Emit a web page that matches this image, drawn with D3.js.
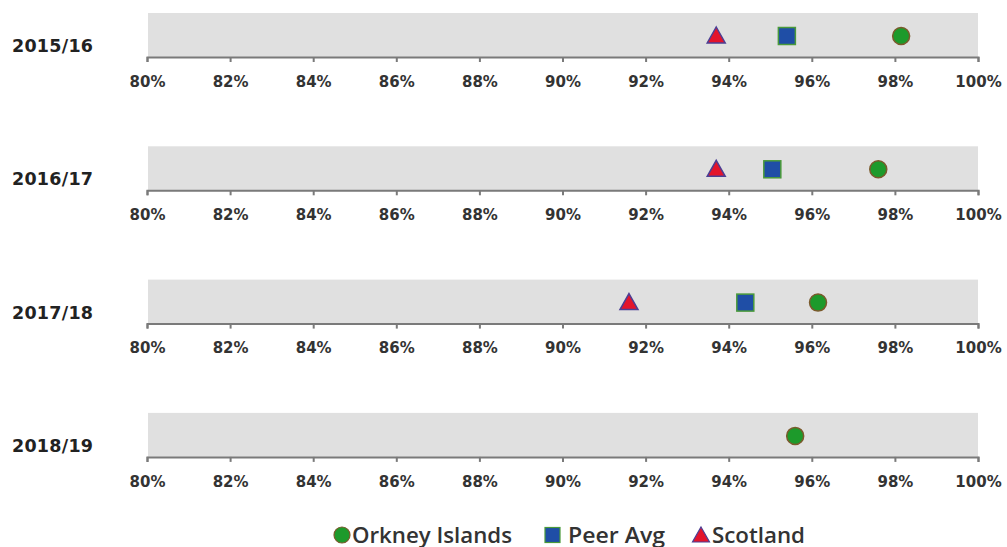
<!DOCTYPE html>
<html><head><meta charset="utf-8">
<script src="https://cdn.jsdelivr.net/npm/d3@7"></script>
<style>body{margin:0;background:#fff}</style>
</head><body>
<script>
const years = ["2015/16","2016/17","2017/18","2018/19"];
const orkney = [98.15, 97.6, 96.15, 95.6];
const peerAvg = [95.4, 95.05, 94.4, null];
const scotland = [93.7, 93.7, 91.6, null];
const tickValues = [80,82,84,86,88,90,92,94,96,98,100];
const seriesNames = ["Orkney Islands","Peer Avg","Scotland"];

const W = 1007, H = 547;
const svg = d3.select("body").append("svg").attr("width", W).attr("height", H);
const x = d3.scaleLinear().domain([80,100]).range([147,978]);
const panelH = 44;

const colors = {
  circle: {fill:"#1d9a2b", stroke:"#7a5a2c"},
  square: {fill:"#1f4ea6", stroke:"#4a9a3a"},
  tri: {fill:"#e3142c", stroke:"#4c3f94"}
};
const triPath = "M0,-9 L9,7 L-9,7 Z";

years.forEach((yr, i) => {
  const top = 13 + i * 133.3;
  const g = svg.append("g");
  g.append("rect").attr("x", x(80)+1).attr("y", top).attr("width", x(100)-x(80)-1).attr("height", panelH).attr("fill", "#e0e0e0");
  const ax = g.append("g").attr("transform", `translate(0,${top+panelH})`)
    .call(d3.axisBottom(x).tickValues(tickValues).tickSize(5).tickPadding(14).tickFormat(d => d + "%"));
  ax.select(".domain").attr("stroke", "#7a7a7a").attr("stroke-width", 2);
  ax.selectAll(".tick line").attr("stroke", "#7a7a7a").attr("stroke-width", 2);
  ax.selectAll(".tick text").attr("fill", "#333").attr("font-family", "DejaVu Sans").attr("font-weight", "bold").attr("font-size", 15).attr("dy", "0.71em");
  g.append("text").attr("x", 12).attr("y", top + 39).attr("font-family", "DejaVu Sans").attr("font-weight", "bold").attr("font-size", 17.5).attr("fill", "#222").attr("textLength", 81).attr("lengthAdjust", "spacing").text(yr);
  const cy = top + 23;
  if (scotland[i] != null)
    g.append("path").attr("d", triPath).attr("transform", `translate(${x(scotland[i])},${cy})`).attr("fill", colors.tri.fill).attr("stroke", colors.tri.stroke).attr("stroke-width", 1.5);
  if (peerAvg[i] != null)
    g.append("rect").attr("x", x(peerAvg[i]) - 8.5).attr("y", cy - 8.5).attr("width", 17).attr("height", 17).attr("fill", colors.square.fill).attr("stroke", colors.square.stroke).attr("stroke-width", 1.5);
  if (orkney[i] != null)
    g.append("circle").attr("cx", x(orkney[i])).attr("cy", cy).attr("r", 8.5).attr("fill", colors.circle.fill).attr("stroke", colors.circle.stroke).attr("stroke-width", 1.5);
});

// legend
const lg = svg.append("g").attr("font-family", "Open Sans").attr("font-weight", 600).attr("font-size", 21).attr("fill", "#333");
const ly = 535;
lg.append("circle").attr("cx", 342).attr("cy", ly).attr("r", 8).attr("fill", colors.circle.fill).attr("stroke", colors.circle.stroke).attr("stroke-width", 1.2);
lg.append("text").attr("x", 352).attr("y", ly + 7.5).attr("textLength", 160).attr("lengthAdjust", "spacingAndGlyphs").text(seriesNames[0]);
lg.append("rect").attr("x", 545).attr("y", ly - 7.5).attr("width", 15).attr("height", 15).attr("fill", colors.square.fill).attr("stroke", colors.square.stroke).attr("stroke-width", 1.2);
lg.append("text").attr("x", 568).attr("y", ly + 7.5).attr("textLength", 97).attr("lengthAdjust", "spacingAndGlyphs").text(seriesNames[1]);
lg.append("path").attr("d", "M0,-8 L8.5,7 L-8.5,7 Z").attr("transform", `translate(701,${ly})`).attr("fill", colors.tri.fill).attr("stroke", colors.tri.stroke).attr("stroke-width", 1.2);
lg.append("text").attr("x", 712).attr("y", ly + 7.5).attr("textLength", 93).attr("lengthAdjust", "spacingAndGlyphs").text(seriesNames[2]);
</script>
</body></html>
